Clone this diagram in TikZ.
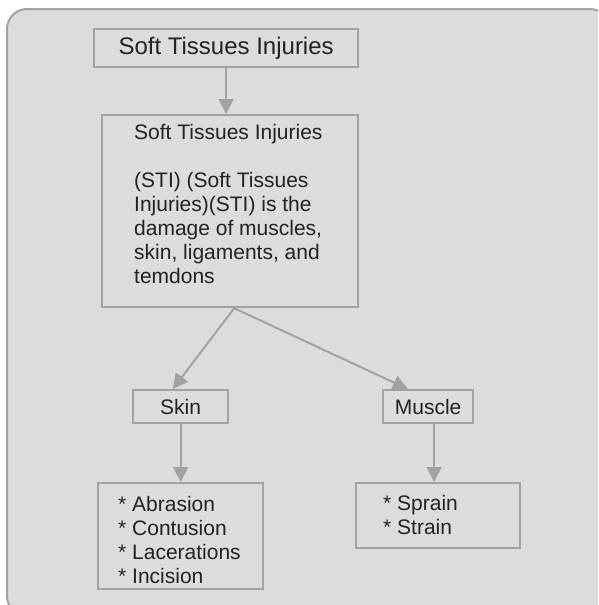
\documentclass[tikz,border=0pt]{standalone}
\usepackage{fontspec}
\setmainfont{Liberation Sans}
\usetikzlibrary{arrows.meta,calc}
\definecolor{bg}{HTML}{DBDCDB}
\definecolor{ln}{HTML}{A2A2A2}
\definecolor{tx}{HTML}{222222}
\begin{document}
\begin{tikzpicture}[x=1pt,y=-1pt,
  box/.style={draw=ln, line width=2.2pt, fill=bg, inner sep=0pt, anchor=north west, text=tx, font=\fontsize{21}{24}\selectfont},
  txt/.style={text=tx, inner sep=0pt, anchor=north west, align=left, font=\fontsize{21}{24}\selectfont},
  conn/.style={draw=ln, line width=2pt, -{Triangle[length=15pt,width=15pt]}}]
\useasboundingbox (0,0) rectangle (598,605);
\clip (0,0) rectangle (598,605);
\draw[draw=ln, line width=2pt, fill=bg, rounded corners=20pt] (7,9) rectangle (610,616);

\node[box, minimum width=264pt, minimum height=38pt, font=\fontsize{24}{28}\selectfont] (title) at (93,28) {Soft Tissues Injuries};

\node[box, minimum width=256pt, minimum height=192pt] (sti) at (101,114) {};
\node[txt] (stitxt) at (134,122.2) {\strut Soft Tissues Injuries\\[24pt]
(STI) (Soft Tissues\\
Injuries)(STI) is the\\
damage of muscles,\\
skin, ligaments, and\\
temdons};

\node[box, minimum width=95pt, minimum height=33pt] (skin) at (132,389) {Skin};
\node[box, minimum width=90pt, minimum height=33pt] (muscle) at (382,389) {Muscle};

\node[box, minimum width=165pt, minimum height=106pt] (skinlist) at (97,482) {};
\node[txt] (skintxt) at (118,494.2) {\strut * Abrasion\\
* Contusion\\
* Lacerations\\
* Incision};

\node[box, minimum width=164pt, minimum height=65pt] (musclelist) at (355,482) {};
\node[txt] (muscletxt) at (383,493.2) {\strut * Sprain\\
* Strain};

\coordinate (fork) at ($(sti.south west)!0.516!(sti.south east)$);
\coordinate (mdown) at ($(muscle.south)+(6,0)$);

\draw[conn] (title.south) -- (title.south |- sti.north);
\draw[conn] (fork) -- ($(skin.north west)!0.42!(skin.north east)$);
\draw[conn] (fork) -- ($(muscle.north west)!0.28!(muscle.north east)$);
\draw[conn] (skin.south) -- (skinlist.north);
\draw[conn] (mdown) -- (mdown |- musclelist.north);
\end{tikzpicture}
\end{document}
